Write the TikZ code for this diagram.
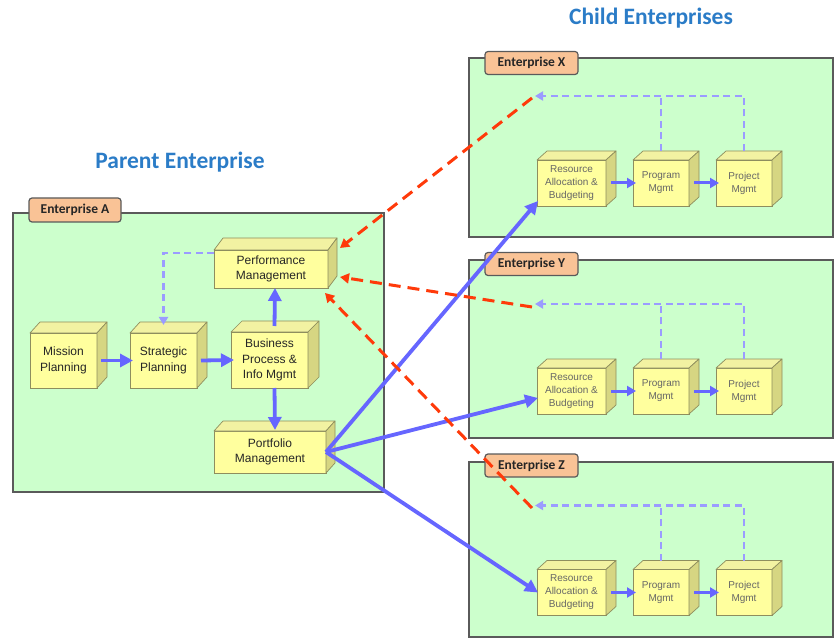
\documentclass[tikz,border=0pt]{standalone}
\usepackage{fontspec}
\setmainfont{Liberation Sans}
\newfontfamily\calib{Carlito}
\usetikzlibrary{arrows.meta,calc}
\definecolor{boxfill}{HTML}{CCFFCC}
\definecolor{boxedge}{HTML}{5A5A5A}
\definecolor{tabfill}{HTML}{F9C396}
\definecolor{cubefront}{HTML}{FFFF9E}
\definecolor{cubetop}{HTML}{F2F2A2}
\definecolor{cubeside}{HTML}{D6D682}
\definecolor{cubeedge}{HTML}{8E8E5E}
\definecolor{flowblue}{HTML}{6666FF}
\definecolor{fbblue}{HTML}{9B9BFF}
\definecolor{fbred}{HTML}{FF3A0A}
\definecolor{titleblue}{HTML}{2B7CC7}
\newcommand\cubefaces[3]{%
  \filldraw[fill=cubetop,draw=cubeedge,line width=0.7pt,line join=round] (#1.north west) -- ++(#2,-#3) -- ($(#1.north east)+(#2,-#3)$) -- (#1.north east) -- cycle;
  \filldraw[fill=cubeside,draw=cubeedge,line width=0.7pt,line join=round] (#1.north east) -- ++(#2,-#3) -- ($(#1.south east)+(#2,-#3)$) -- (#1.south east) -- cycle;}
\begin{document}
\begin{tikzpicture}[x=1pt,y=-1pt,
  entbox/.style={draw=boxedge,fill=boxfill,line width=1.5pt,inner sep=0pt,outer sep=0pt},
  tabbox/.style={draw=boxedge,fill=tabfill,rounded corners=3pt,line width=1.2pt,inner sep=0pt,
     minimum width=93pt,minimum height=23pt,font=\calib\bfseries\fontsize{13.5}{15}\selectfont,text=black!85},
  cubeA/.style={draw=cubeedge,fill=cubefront,line width=0.7pt,inner sep=0pt,outer sep=0pt,align=center,
     font=\fontsize{12}{15.5}\selectfont,text=black!85},
  cubeC/.style={draw=cubeedge,fill=cubefront,line width=0.7pt,inner sep=0pt,outer sep=0pt,align=center,
     font=\fontsize{10}{13}\selectfont,text=black!60},
  title/.style={font=\calib\bfseries\fontsize{23.5}{25}\selectfont,text=titleblue},
  flow/.style={draw=flowblue,line width=3.8pt,-{Triangle[length=13pt,width=13pt]}},
  flowsm/.style={draw=flowblue,line width=3pt,-{Triangle[length=9pt,width=10pt]}},
  fbline/.style={draw=fbblue,line width=2.2pt,dash pattern=on 7pt off 4.5pt},
  fbarrow/.style={fbline,-{Triangle[length=8pt,width=9pt]}},
  redline/.style={draw=fbred,line width=3pt,dash pattern=on 12pt off 7pt,-{Triangle[length=9pt,width=10pt]}}
]
\useasboundingbox (0,0) rectangle (836,639);
% titles
\node[title] (tparent) at (180,162) {Parent Enterprise};
\node[title] (tchild) at (651,18) {Child Enterprises};
% enterprise boxes
\node[entbox,minimum width=371pt,minimum height=279pt] (entA) at (198.5,352.5) {};
\node[entbox,minimum width=364pt,minimum height=179pt] (entX) at (651,147.5) {};
\node[entbox,minimum width=364pt,minimum height=178pt] (entY) at (651,349) {};
\node[entbox,minimum width=364pt,minimum height=175pt] (entZ) at (651,549.5) {};
\node[tabbox,minimum width=92pt,minimum height=24pt] (tabA) at (75,210) {Enterprise A};
\node[tabbox] (tabX) at (531.5,63) {Enterprise X};
\node[tabbox] (tabY) at (531.5,264) {Enterprise Y};
\node[tabbox] (tabZ) at (531.5,465.5) {Enterprise Z};
% parent cubes
\node[cubeA,minimum width=67pt,minimum height=55pt] (mis) at (63.5,360.5) {Mission\\Planning};
\cubefaces{mis}{10}{11}
\node[cubeA,minimum width=67pt,minimum height=55pt] (str) at (163.5,360.5) {Strategic\\Planning};
\cubefaces{str}{10}{11}
\node[cubeA,minimum width=77pt,minimum height=56pt] (bp) at (269.5,360) {Business\\Process \&\\Info Mgmt};
\cubefaces{bp}{11}{11}
\node[cubeA,minimum width=114pt,minimum height=38pt] (perf) at (271,269) {Performance\\Management};
\cubefaces{perf}{9}{12}
\node[cubeA,minimum width=112pt,minimum height=42pt] (port) at (270,452) {Portfolio\\Management};
\cubefaces{port}{9}{10}
% parent flows
\draw[flow] ($(mis.east)+(4,0)$) -- ($(str.west)+(3,0)$);
\draw[flow] ($(str.east)+(4,0)$) -- ($(bp.west)+(3,0)$);
\draw[flow] ($(bp.north)+(5,-6)$) -- ($(perf.south)+(4,0)$);
\draw[flow] ($(bp.south)+(5,0)$) -- ($(port.north)+(5,-1)$);
\draw[fbarrow] ($(perf.west)+(0,-16)$) -| ($(str.north)+(0,-8)$);
% child enterprises
\foreach \e/\yy in {x/183,y/391,z/592.5}{
  \node[cubeC,minimum width=69pt,minimum height=46pt] (res\e) at (571.5,\yy) {Resource\\Allocation \&\\Budgeting};
  \cubefaces{res\e}{10}{9}
  \node[cubeC,minimum width=56pt,minimum height=46pt] (prog\e) at (661,\yy) {Program\\Mgmt};
  \cubefaces{prog\e}{10}{9}
  \node[cubeC,minimum width=56pt,minimum height=46pt] (proj\e) at (744,\yy) {Project\\Mgmt};
  \cubefaces{proj\e}{10}{9}
  \draw[flowsm] ($(res\e.east)+(5,0)$) -- ($(prog\e.west)+(3,0)$);
  \draw[flowsm] ($(prog\e.east)+(5,0)$) -- ($(proj\e.west)+(3,0)$);
  \coordinate (fb\e) at (535,{\yy-87});
  \draw[fbline] ($(prog\e.north)+(0,-9)$) -- (prog\e.north |- fb\e);
  \draw[fbarrow] ($(proj\e.north)+(0,-9)$) |- (fb\e);
}
% portfolio to children
\draw[flow] (port.east) -- ($(resx.south west)+(1,-5)$);
\draw[flow] (port.east) -- ($(resy.west)+(1,7)$);
\draw[flow] (port.east) -- ($(resz.west)+(1,0)$);
% performance feedback from children
\draw[redline] ($(fbx)+(-3,2)$) -- ($(perf.east)+(12,-21)$);
\draw[redline] ($(fby)+(-3,3)$) -- ($(perf.east)+(12,8)$);
\draw[redline] ($(fbz)+(-3,2.5)$) -- ($(perf.south east)+(-3,5)$);
\end{tikzpicture}
\end{document}
